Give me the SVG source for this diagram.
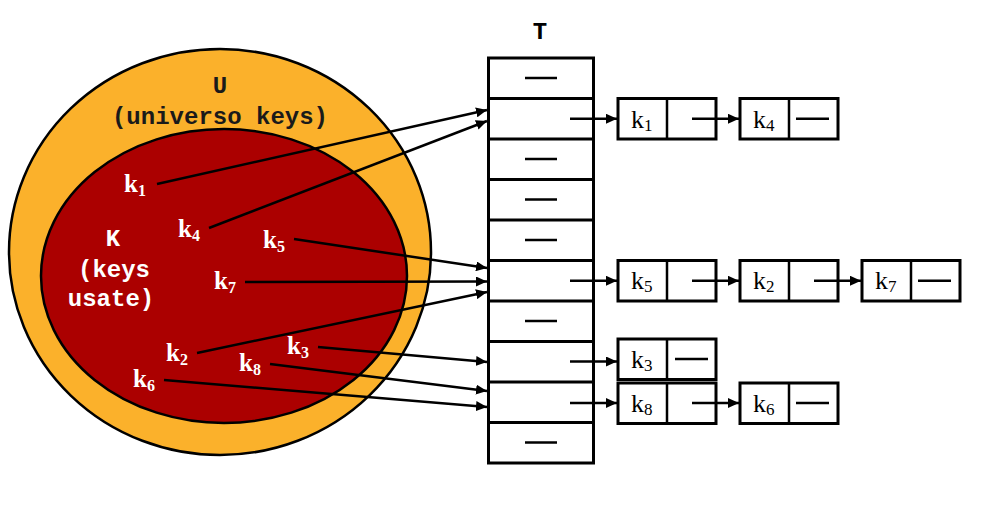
<svg xmlns="http://www.w3.org/2000/svg" width="982" height="505" viewBox="0 0 982 505">
<style>
.mono{font-family:"Liberation Mono","Courier New",monospace;font-weight:bold;font-size:24px}
.key{font-family:"Liberation Serif","Times New Roman",serif;font-weight:bold;font-size:25px;fill:#fff}
.sub{font-size:16px}
.nk{font-family:"Liberation Serif","Times New Roman",serif;font-size:26px;fill:#000}
.nsub{font-size:17px}
.box{fill:#fff;stroke:#000;stroke-width:3}
.dash{stroke:#000;stroke-width:2.5}
.con{stroke:#000;stroke-width:2.5;fill:none;marker-end:url(#ah)}
</style>
<defs>
<marker id="ah" markerUnits="userSpaceOnUse" markerWidth="12" markerHeight="10" refX="11" refY="5" orient="auto">
<path d="M0,0 L11,5 L0,10 z" fill="#000"/>
</marker>
</defs>
<rect width="982" height="505" fill="#fff"/>
<g id="U">
<ellipse cx="220" cy="252" rx="211" ry="203" fill="#FBB12B" stroke="#000" stroke-width="2.5"/>
<text class="mono" x="220" y="93" text-anchor="middle" fill="#1a1a1a" font-size="25">U</text>
<text class="mono" x="220" y="124" text-anchor="middle" fill="#1a1a1a" font-size="25">(universo keys)</text>
</g>
<g id="K">
<ellipse cx="224" cy="276" rx="183" ry="147" fill="#AB0000" stroke="#000" stroke-width="2.5"/>
<text class="mono" x="113" y="246" text-anchor="middle" fill="#fff">K</text>
<text class="mono" x="114" y="277" text-anchor="middle" fill="#fff">(keys</text>
<text class="mono" x="111" y="306" text-anchor="middle" fill="#fff">usate)</text>
</g>
<g id="keys">
<text class="key" x="124" y="192">k<tspan class="sub" dy="4">1</tspan></text>
<text class="key" x="178" y="237">k<tspan class="sub" dy="4">4</tspan></text>
<text class="key" x="263" y="248">k<tspan class="sub" dy="4">5</tspan></text>
<text class="key" x="214" y="289">k<tspan class="sub" dy="4">7</tspan></text>
<text class="key" x="166" y="361">k<tspan class="sub" dy="4">2</tspan></text>
<text class="key" x="287" y="354">k<tspan class="sub" dy="4">3</tspan></text>
<text class="key" x="239" y="371">k<tspan class="sub" dy="4">8</tspan></text>
<text class="key" x="133" y="387">k<tspan class="sub" dy="4">6</tspan></text>
</g>
<g id="T">
<text class="mono" x="540" y="39" text-anchor="middle" font-size="22" fill="#000">T</text>
<rect class="box" x="488.5" y="58" width="105" height="405"/>
<g stroke="#000" stroke-width="3">
<line x1="488.5" y1="98.5" x2="593.5" y2="98.5"/>
<line x1="488.5" y1="139" x2="593.5" y2="139"/>
<line x1="488.5" y1="179.5" x2="593.5" y2="179.5"/>
<line x1="488.5" y1="220" x2="593.5" y2="220"/>
<line x1="488.5" y1="260.5" x2="593.5" y2="260.5"/>
<line x1="488.5" y1="301" x2="593.5" y2="301"/>
<line x1="488.5" y1="341.5" x2="593.5" y2="341.5"/>
<line x1="488.5" y1="382" x2="593.5" y2="382"/>
<line x1="488.5" y1="422.5" x2="593.5" y2="422.5"/>
</g>
<line class="dash" x1="525" y1="78" x2="557" y2="78"/>
<line class="dash" x1="525" y1="159" x2="557" y2="159"/>
<line class="dash" x1="525" y1="199.5" x2="557" y2="199.5"/>
<line class="dash" x1="525" y1="240" x2="557" y2="240"/>
<line class="dash" x1="525" y1="321" x2="557" y2="321"/>
<line class="dash" x1="525" y1="442.5" x2="557" y2="442.5"/>
</g>
<g id="n-k1"><rect class="box" x="618" y="98.5" width="98" height="40.5"/><line class="dash" x1="667" y1="98.5" x2="667" y2="139" stroke-width="3"/><text class="nk" x="631" y="128">k<tspan class="nsub" dy="3">1</tspan></text></g>
<g id="n-k4"><rect class="box" x="740" y="98.5" width="98" height="40.5"/><line class="dash" x1="789" y1="98.5" x2="789" y2="139" stroke-width="3"/><text class="nk" x="753" y="128">k<tspan class="nsub" dy="3">4</tspan></text><line class="dash" x1="796" y1="118.75" x2="829" y2="118.75"/></g>
<g id="n-k5"><rect class="box" x="618" y="260.5" width="98" height="40.5"/><line class="dash" x1="667" y1="260.5" x2="667" y2="301" stroke-width="3"/><text class="nk" x="631" y="289">k<tspan class="nsub" dy="3">5</tspan></text></g>
<g id="n-k2"><rect class="box" x="740" y="260.5" width="98" height="40.5"/><line class="dash" x1="789" y1="260.5" x2="789" y2="301" stroke-width="3"/><text class="nk" x="753" y="289">k<tspan class="nsub" dy="3">2</tspan></text></g>
<g id="n-k7"><rect class="box" x="862" y="260.5" width="98" height="40.5"/><line class="dash" x1="911" y1="260.5" x2="911" y2="301" stroke-width="3"/><text class="nk" x="875" y="289">k<tspan class="nsub" dy="3">7</tspan></text><line class="dash" x1="918" y1="280.75" x2="951" y2="280.75"/></g>
<g id="n-k3"><rect class="box" x="618" y="339" width="98" height="40.5"/><line class="dash" x1="667" y1="339" x2="667" y2="379.5" stroke-width="3"/><text class="nk" x="631" y="368">k<tspan class="nsub" dy="3">3</tspan></text><line class="dash" x1="675" y1="359" x2="708" y2="359"/></g>
<g id="n-k8"><rect class="box" x="618" y="383" width="98" height="40.5"/><line class="dash" x1="667" y1="383" x2="667" y2="423.5" stroke-width="3"/><text class="nk" x="631" y="412">k<tspan class="nsub" dy="3">8</tspan></text></g>
<g id="n-k6"><rect class="box" x="740" y="383" width="98" height="40.5"/><line class="dash" x1="789" y1="383" x2="789" y2="423.5" stroke-width="3"/><text class="nk" x="753" y="412">k<tspan class="nsub" dy="3">6</tspan></text><line class="dash" x1="796" y1="403" x2="829" y2="403"/></g>
<g id="connectors">
<line class="con" x1="157" y1="184" x2="487" y2="110"/>
<line class="con" x1="209" y1="228" x2="487" y2="121"/>
<line class="con" x1="294" y1="239" x2="487" y2="268"/>
<line class="con" x1="245" y1="282" x2="487" y2="281.5"/>
<line class="con" x1="197" y1="353" x2="487" y2="292"/>
<line class="con" x1="318" y1="347" x2="487" y2="362"/>
<line class="con" x1="270" y1="364" x2="487" y2="391"/>
<line class="con" x1="164" y1="380" x2="487" y2="407"/>
<line class="con" x1="570" y1="118.75" x2="617" y2="118.75"/>
<line class="con" x1="692" y1="118.75" x2="739" y2="118.75"/>
<line class="con" x1="570" y1="280.75" x2="617" y2="280.75"/>
<line class="con" x1="692" y1="280.75" x2="739" y2="280.75"/>
<line class="con" x1="814" y1="280.75" x2="861" y2="280.75"/>
<line class="con" x1="570" y1="361.5" x2="617" y2="361.5"/>
<line class="con" x1="570" y1="403" x2="617" y2="403"/>
<line class="con" x1="692" y1="403" x2="739" y2="403"/>
</g>
</svg>
